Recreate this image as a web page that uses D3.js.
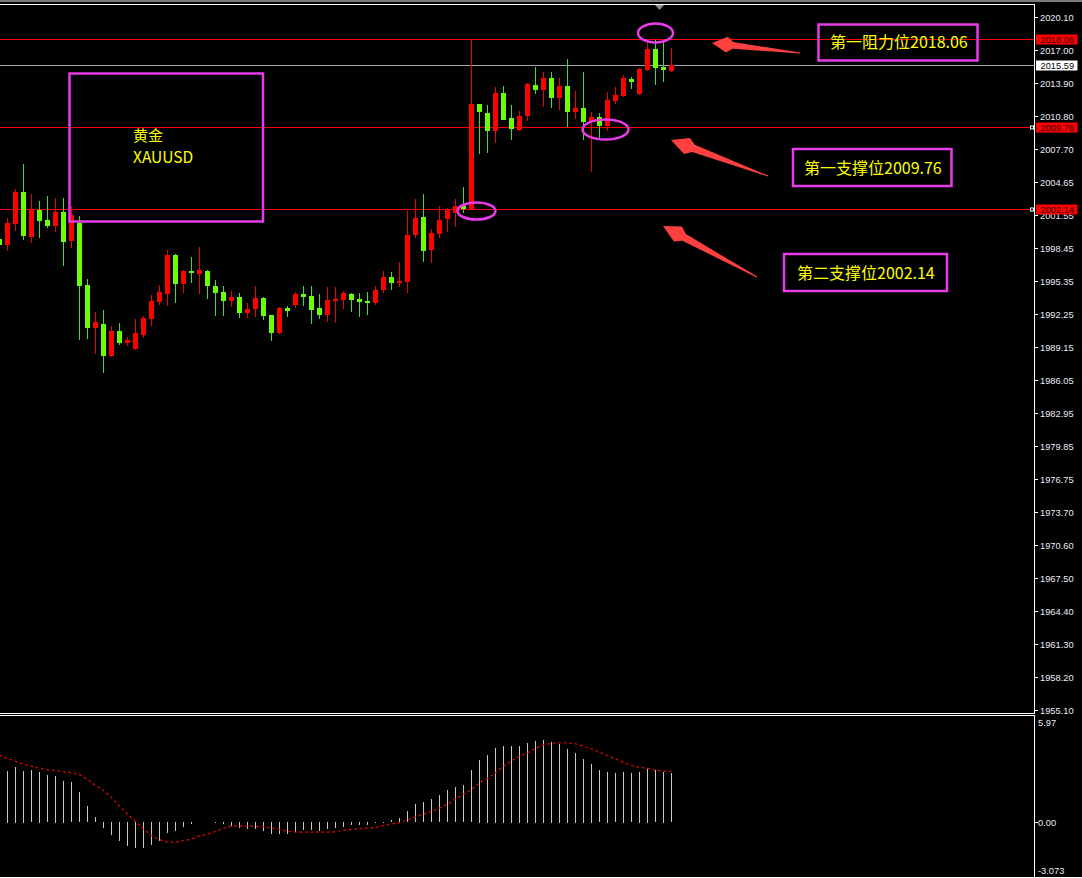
<!DOCTYPE html>
<html><head><meta charset="utf-8">
<script src="https://cdn.jsdelivr.net/npm/d3@7"></script>
<style>html,body{margin:0;padding:0;background:#000;overflow:hidden}</style>
</head><body>
<script>
// ---------------- DATA ----------------
const opens = [
1999.30,1998.71,2000.71,2003.68,1999.46,2002.02,2001.06,2000.52,2001.81,1999.09,
2000.80,1994.96,1990.95,1991.30,1988.33,1990.64,1989.52,1988.96,1990.27,1991.77,
1993.37,1994.12,1997.77,1995.08,1996.27,1996.02,1996.27,1994.87,1994.30,1993.49,
1993.83,1992.36,1992.71,1993.74,1992.15,1990.49,1992.80,1993.08,1994.12,1993.93,
1992.80,1992.17,1993.49,1993.58,1994.12,1993.65,1993.46,1993.30,1994.49,1995.71,
1995.18,1995.24,1999.65,2001.34,1998.24,1999.74,2001.15,2001.71,2002.37,2002.09,
2011.94,2011.09,2009.43,2012.97,2010.63,2009.53,2010.84,2013.72,2013.25,2014.38,
2012.50,2013.63,2011.19,2011.56,2010.25,2010.72,2009.88,2012.22,2012.69,2014.28,
2012.88,2015.13,2017.10,2015.41,2015.03];
const highs = [
1999.56,2001.24,2003.97,2006.31,2003.50,2002.84,2003.31,2003.09,2003.12,2002.37,
2001.43,1995.52,1992.43,1992.61,1991.11,1991.39,1990.08,1991.77,1992.05,1994.02,
1994.96,1998.24,1997.87,1996.40,1997.59,1998.52,1996.37,1995.43,1994.87,1994.40,
1994.21,1993.27,1994.87,1993.83,1992.15,1992.90,1992.99,1994.30,1994.87,1994.87,
1994.12,1994.77,1994.77,1994.40,1994.21,1994.21,1994.30,1994.87,1996.27,1996.18,
1997.12,2001.90,2003.03,2003.50,2000.21,2002.37,2002.15,2003.03,2004.15,2017.94,
2011.94,2011.84,2013.53,2013.63,2011.84,2011.28,2013.90,2015.41,2014.94,2014.94,
2014.38,2016.16,2013.16,2014.94,2011.19,2011.09,2013.07,2013.53,2014.66,2014.47,
2015.32,2017.66,2017.94,2017.85,2017.19];
const lows = [
1998.52,1998.18,2000.03,1999.18,1998.93,1999.40,2000.34,1999.96,1996.77,1998.46,
1989.83,1989.92,1988.52,1986.73,1988.25,1989.36,1989.27,1988.90,1989.99,1991.11,
1993.08,1993.02,1993.30,1994.24,1995.18,1994.14,1993.67,1992.08,1992.08,1992.92,
1991.89,1991.89,1991.99,1991.68,1989.73,1990.40,1991.99,1992.83,1993.02,1991.33,
1991.80,1991.52,1991.42,1992.74,1992.46,1991.99,1992.17,1993.11,1994.24,1994.52,
1994.80,1994.24,1999.37,1997.12,1997.02,1999.37,1999.93,2000.40,2001.71,2001.99,
2007.25,2007.34,2008.28,2010.40,2008.56,2009.43,2010.37,2012.88,2011.66,2011.56,
2011.38,2009.78,2010.53,2008.56,2005.56,2008.75,2009.41,2011.94,2012.60,2013.35,
2012.80,2015.05,2013.72,2014.00,2014.94];
const closes = [
1998.74,2000.80,2003.71,1999.58,2002.06,2000.99,2000.52,2001.81,1999.02,2001.53,
1994.89,1990.95,1991.49,1988.33,1990.64,1989.52,1989.80,1990.46,1991.86,1993.46,
1994.30,1997.77,1995.08,1996.27,1996.09,1996.37,1994.89,1994.24,1993.49,1993.83,
1992.36,1992.71,1993.74,1992.08,1990.49,1992.80,1992.55,1994.12,1993.86,1992.64,
1992.17,1993.55,1993.65,1994.21,1993.58,1993.39,1993.30,1994.49,1995.71,1995.18,
1995.34,1999.65,2001.24,1998.15,1999.84,2001.06,2002.09,2002.37,2002.09,2011.94,
2011.22,2009.43,2012.97,2010.47,2009.62,2010.81,2013.82,2013.25,2014.38,2012.50,
2013.63,2011.19,2011.56,2010.25,2010.72,2009.88,2012.31,2012.78,2014.38,2014.00,
2015.22,2017.10,2015.32,2015.13,2015.60];
const macdHist = [
2.90,2.88,3.10,2.88,2.93,2.82,2.65,2.60,2.32,2.26,
1.70,0.92,0.30,-0.35,-0.74,-1.08,-1.36,-1.47,-1.47,-1.30,
-1.08,-0.63,-0.52,-0.30,-0.13,-0.02,0.01,0.05,-0.13,-0.24,
-0.35,-0.41,-0.41,-0.52,-0.69,-0.69,-0.69,-0.58,-0.46,-0.46,
-0.52,-0.41,-0.35,-0.27,-0.18,-0.18,-0.18,-0.07,0.03,0.13,
0.24,0.64,1.03,1.14,1.31,1.53,1.81,1.98,2.09,2.93,
3.49,3.77,4.16,4.28,4.28,4.28,4.44,4.56,4.61,4.50,
4.39,4.11,3.88,3.55,3.27,2.93,2.82,2.76,2.82,2.76,
2.82,2.99,2.93,2.82,2.76];
const macdSignal = [
3.76,3.57,3.42,3.23,3.14,3.02,2.93,2.90,2.84,2.78,
2.67,2.39,2.07,1.78,1.40,0.90,0.47,0.06,-0.37,-0.73,
-0.97,-1.10,-1.10,-1.02,-0.93,-0.74,-0.65,-0.50,-0.34,-0.20,
-0.20,-0.20,-0.22,-0.24,-0.30,-0.39,-0.50,-0.54,-0.54,-0.54,
-0.54,-0.54,-0.52,-0.43,-0.39,-0.35,-0.31,-0.28,-0.18,-0.09,
-0.02,0.15,0.30,0.47,0.60,0.81,1.01,1.31,1.57,1.83,
2.21,2.46,2.77,3.14,3.44,3.70,3.89,4.14,4.33,4.42,
4.45,4.45,4.39,4.26,4.11,3.92,3.74,3.55,3.36,3.18,
3.08,3.02,2.91,2.88,2.85];
const priceTicks = ["2020.10","2017.00","2013.90","2010.80","2007.70","2004.65","2001.55","1998.45",
"1995.35","1992.25","1989.15","1986.05","1982.95","1979.85","1976.75","1973.70","1970.60",
"1967.50","1964.40","1961.30","1958.20","1955.10"];
const macdTicks = ["5.97","0.00","-3.073"];
const levels = [2018.06, 2015.59, 2009.76, 2002.14];
const bidLevel = 2015.59;
const noteTexts = ["第一阻力位2018.06","第一支撑位2009.76","第二支撑位2002.14"];
const boxTexts = ["黄金","XAUUSD"];

// ---------------- LAYOUT ----------------
const W = 1082, H = 878;
const axisX = 1034.5;
const mainTop = 4, mainBot = 713;
const macdTop = 715, macdBot = 877;

const n = closes.length;
const x = d3.scaleLinear().domain([0, n - 1]).range([-0.5, -0.5 + 8 * (n - 1)]);
const y = d3.scaleLinear().domain([1955.10, 2020.10]).range([710, 17]);
const ym = d3.scaleLinear().domain([-3.073, 5.97]).range([877.5, 715.5]);
const py = v => Math.round(y(v) + 0.2);

const svg = d3.select("body").append("svg").attr("width", W).attr("height", H)
  .style("display", "block");
svg.append("rect").attr("width", W).attr("height", H).attr("fill", "#000");

// frame
svg.append("rect").attr("x", 0).attr("y", 0).attr("width", W).attr("height", 2).attr("fill", "#7a7a7a");
svg.append("line").attr("x1", 0).attr("x2", axisX).attr("y1", mainTop + 0.5).attr("y2", mainTop + 0.5).attr("stroke", "#fff");
svg.append("line").attr("x1", 0).attr("x2", axisX).attr("y1", mainBot + 0.5).attr("y2", mainBot + 0.5).attr("stroke", "#fff");
svg.append("line").attr("x1", 0).attr("x2", axisX).attr("y1", macdTop + 0.5).attr("y2", macdTop + 0.5).attr("stroke", "#fff");
svg.append("line").attr("x1", 0).attr("x2", W).attr("y1", macdBot + 0.5).attr("y2", macdBot + 0.5).attr("stroke", "#fff");
svg.append("line").attr("x1", axisX).attr("x2", axisX).attr("y1", mainTop).attr("y2", mainBot + 1).attr("stroke", "#fff");
svg.append("line").attr("x1", axisX).attr("x2", axisX).attr("y1", macdTop).attr("y2", macdBot).attr("stroke", "#fff");
// shift marker
svg.append("path").attr("d", "M655,5 L664,5 L659.5,10 Z").attr("fill", "#8a9099");

const clip = svg.append("clipPath").attr("id", "mainclip");
clip.append("rect").attr("x", 0).attr("y", mainTop + 1).attr("width", axisX).attr("height", mainBot - mainTop - 1);

// ---------------- PRICE AXIS ----------------
const axisFont = "'Liberation Sans', Arial, sans-serif";
const tickG = svg.append("g");
priceTicks.forEach(t => {
  const yy = Math.round(y(+t)) + 0.5;
  tickG.append("line").attr("x1", axisX).attr("x2", axisX + 3.5).attr("y1", yy).attr("y2", yy).attr("stroke", "#fff");
  tickG.append("text").attr("x", 1040).attr("y", yy).attr("dy", "0.35em")
    .attr("font-family", axisFont).attr("font-size", "9.3px").attr("fill", "#e8eef8").text(t);
});

// ---------------- LEVEL LINES ----------------
const lg = svg.append("g").attr("clip-path", "url(#mainclip)");
levels.forEach(v => {
  const yy = py(v) + 0.5;
  lg.append("line").attr("x1", 0).attr("x2", axisX).attr("y1", yy).attr("y2", yy)
    .attr("stroke", v === bidLevel ? "#a4a8b0" : "#ff0000").attr("stroke-width", 1);
});

// ---------------- CANDLES ----------------
const cg = svg.append("g").attr("clip-path", "url(#mainclip)");
const candles = d3.range(n).map(i => ({i, o: opens[i], h: highs[i], l: lows[i], c: closes[i]}));
cg.selectAll("rect.wick").data(candles).join("rect").attr("class", "wick")
  .attr("x", d => x(d.i) - 0.5).attr("width", 1)
  .attr("y", d => Math.round(y(d.h)))
  .attr("height", d => Math.max(1, Math.round(y(d.l)) - Math.round(y(d.h))))
  .attr("fill", d => d.c >= d.o ? "#f00000" : "#2ee62e");
cg.selectAll("rect.body").data(candles).join("rect").attr("class", "body")
  .attr("x", d => x(d.i) - 2.5).attr("width", 5)
  .attr("y", d => Math.round(y(Math.max(d.o, d.c))))
  .attr("height", d => Math.max(1, Math.round(y(Math.min(d.o, d.c))) - Math.round(y(Math.max(d.o, d.c)))))
  .attr("fill", d => d.c >= d.o ? "#ff0000" : "#6cff00");

// ---------------- PRICE TAGS ----------------
levels.forEach(v => {
  const yy = py(v);
  const isBid = v === bidLevel;
  svg.append("rect").attr("x", 1036).attr("y", yy - 4.5).attr("width", 41.5).attr("height", 10)
    .attr("fill", isBid ? "#ffffff" : "#ff0000");
  svg.append("text").attr("x", 1040.5).attr("y", yy + 0.5).attr("dy", "0.35em")
    .attr("font-family", axisFont).attr("font-size", "9.3px").attr("fill", isBid ? "#000" : "#2a0000")
    .text(v.toFixed(2));
  if (!isBid && v !== levels[0]) {
    svg.append("rect").attr("x", 1030.5).attr("y", yy - 1).attr("width", 3).attr("height", 3)
      .attr("fill", "#000").attr("stroke", "#fff").attr("stroke-width", 1);
  }
});

// ---------------- MACD ----------------
const mg = svg.append("g");
const z0 = ym(0);
mg.selectAll("rect.hist").data(macdHist.map((v, i) => ({v, i}))).join("rect").attr("class", "hist")
  .attr("x", d => x(d.i) - 0.5).attr("width", 1)
  .attr("y", d => Math.round(Math.min(ym(d.v), z0)))
  .attr("height", d => Math.max(0, Math.round(Math.abs(ym(d.v) - z0))))
  .attr("fill", "#c8c8c8");
const sigLine = d3.line().x((d, i) => x(i)).y(d => ym(d));
mg.append("path").attr("d", sigLine(macdSignal)).attr("fill", "none")
  .attr("stroke", "#ff0000").attr("stroke-width", 1.2).attr("stroke-dasharray", "2.5,3");

const mt = svg.append("g");
const mtPos = [723, Math.round(z0) + 0.5, 871];
macdTicks.forEach((t, i) => {
  if (i === 1) {
    mt.append("line").attr("x1", axisX).attr("x2", axisX + 3.5).attr("y1", mtPos[i]).attr("y2", mtPos[i]).attr("stroke", "#fff");
  }
  mt.append("text").attr("x", 1038).attr("y", mtPos[i]).attr("dy", "0.35em")
    .attr("font-family", axisFont).attr("font-size", "9.3px").attr("fill", "#e8eef8").text(t);
});

// ---------------- ANNOTATIONS ----------------
const mag = "#e83ce8";
const ann = svg.append("g");
// left box
ann.append("rect").attr("x", 69.5).attr("y", 73.5).attr("width", 193.5).attr("height", 148)
  .attr("fill", "none").attr("stroke", mag).attr("stroke-width", 2.5);
const cjk = "'Noto Sans CJK SC', 'Noto Sans', sans-serif";
ann.append("text").attr("x", 133).attr("y", 136).attr("dy", "0.35em").attr("font-family", cjk)
  .attr("font-size", "15px").attr("fill", "#ffff00").text(boxTexts[0]);
ann.append("text").attr("x", 133).attr("y", 158).attr("dy", "0.35em").attr("font-family", cjk)
  .attr("font-size", "15.5px").attr("fill", "#ffff00").text(boxTexts[1]);

// right boxes
const rb = [
  {x: 818.5, y: 24.5, w: 159, h: 36, tx: 830, ty: 42.5},
  {x: 793, y: 149, w: 158.5, h: 37, tx: 804, ty: 168.3},
  {x: 784, y: 254, w: 163, h: 37, tx: 797, ty: 273.3}
];
rb.forEach((b, i) => {
  ann.append("rect").attr("x", b.x).attr("y", b.y).attr("width", b.w).attr("height", b.h)
    .attr("fill", "none").attr("stroke", mag).attr("stroke-width", 2.5);
  ann.append("text").attr("x", b.tx).attr("y", b.ty).attr("dy", "0.36em").attr("font-family", cjk)
    .attr("font-size", "16px").attr("fill", "#ffff00").text(noteTexts[i]);
});

// ellipses
[[655.5, 33, 17.5, 9.5], [605.5, 129.5, 23, 10], [476.5, 211, 19, 8.5]].forEach(e => {
  ann.append("ellipse").attr("cx", e[0]).attr("cy", e[1]).attr("rx", e[2]).attr("ry", e[3])
    .attr("fill", "none").attr("stroke", mag).attr("stroke-width", 2.5);
});

// arrows
function arrow(tail, tip, headLen, barbPos, headHalf, neckHalf, tailHalf) {
  const dx = tip[0] - tail[0], dy = tip[1] - tail[1];
  const L = Math.hypot(dx, dy), ux = dx / L, uy = dy / L, nx = -uy, ny = ux;
  const P = (d, s) => [tip[0] - ux * d + nx * s, tip[1] - uy * d + ny * s];
  const pts = [
    [tail[0] + nx * tailHalf, tail[1] + ny * tailHalf],
    P(headLen, neckHalf), P(barbPos, headHalf), tip, P(barbPos, -headHalf), P(headLen, -neckHalf),
    [tail[0] - nx * tailHalf, tail[1] - ny * tailHalf]
  ];
  return "M" + pts.map(p => p[0].toFixed(1) + "," + p[1].toFixed(1)).join("L") + "Z";
}
const arrowCol = "#ff4040";
ann.append("path").attr("d", arrow([800, 53], [712, 43], 21, 15, 8, 3.4, 0.4)).attr("fill", arrowCol);
ann.append("path").attr("d", arrow([768, 176], [671, 140], 24, 17, 8.5, 3.8, 0.4)).attr("fill", arrowCol);
ann.append("path").attr("d", arrow([757, 277], [663, 226], 24, 17, 8.5, 3.8, 0.4)).attr("fill", arrowCol);
</script>
</body></html>
